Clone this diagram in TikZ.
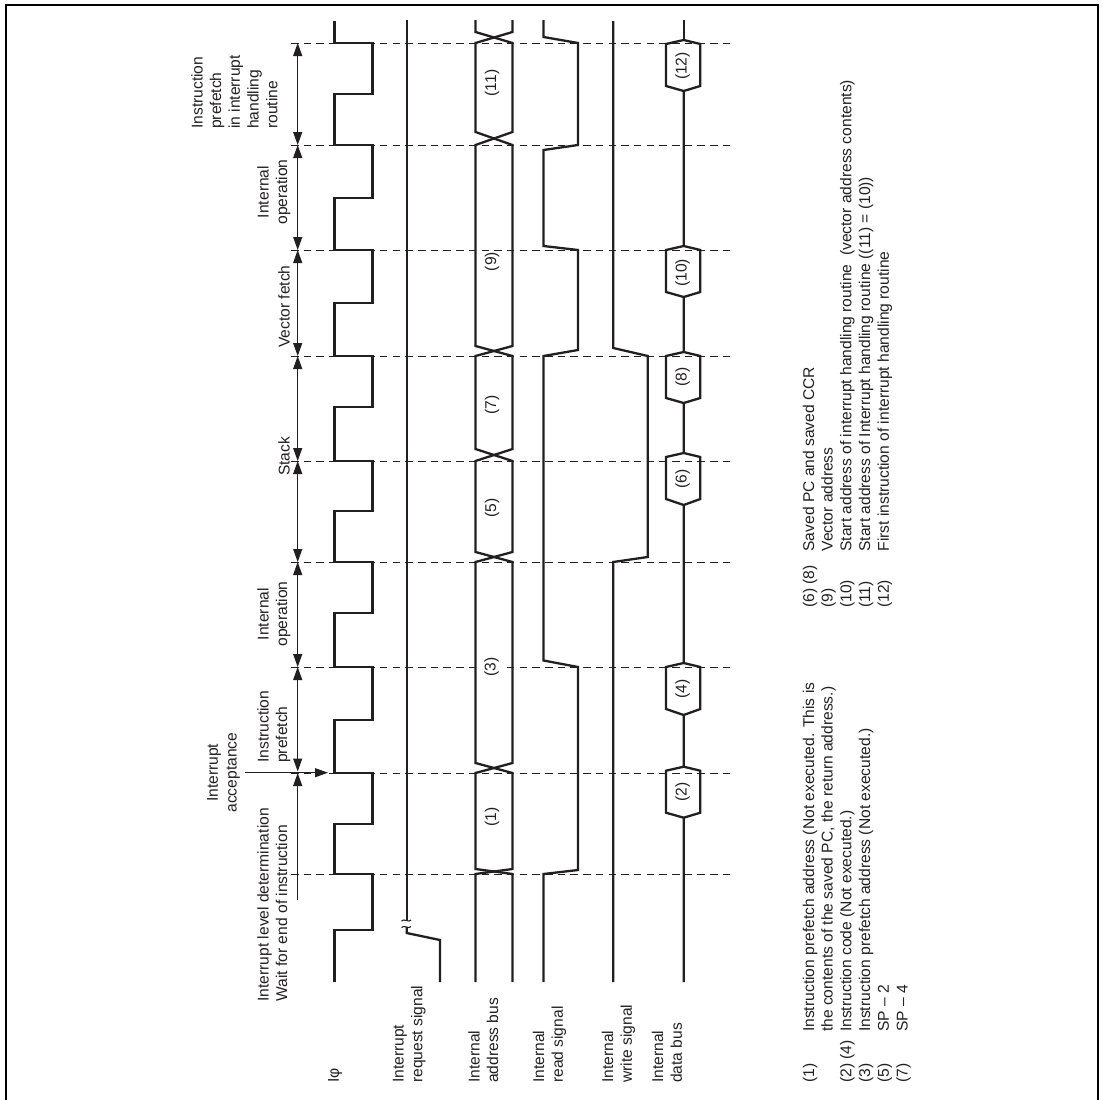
\documentclass[tikz,border=0pt]{standalone}
\usepackage{fontspec}
\setmainfont{Liberation Sans}
\usetikzlibrary{arrows.meta}
\definecolor{ink}{HTML}{231F20}
\tikzset{
  sig/.style={draw=ink,line width=2.3pt,line join=miter},
  guide/.style={draw=ink,line width=1pt,dash pattern=on 7.5pt off 5.2pt},
  dim/.style={draw=ink,line width=1.1pt,{Triangle[length=13pt,width=9pt]}-{Triangle[length=13pt,width=9pt]}},
  dimone/.style={draw=ink,line width=1.1pt,-{Triangle[length=13pt,width=9pt]}},
  lbl/.style={rotate=90,inner sep=0pt,anchor=north west,align=left,text=ink,font=\fontsize{15.6}{18.7}\selectfont},
  lblc/.style={lbl,align=center,anchor=north},
  num/.style={rotate=90,inner sep=0pt,anchor=center,text=ink,font=\fontsize{15.6}{18.7}\selectfont},
  frame/.style={draw=black,line width=2pt}
}
\begin{document}
\begin{tikzpicture}[x=1pt,y=-1pt]
\useasboundingbox (0,0) rectangle (1103,1100);
\draw[frame] (5.5,1100) -- (5.5,5) -- (1098,5) -- (1098,1100);

% guide lines
\foreach \n/\y in {a/43,b/145,c/250,d/356,e/461,f/562,g/667,h/773,i/874}{
  \coordinate (g\n L) at (291,\y);
  \coordinate (g\n R) at (732,\y);
  \coordinate (m\n) at (297.7,\y);
  \draw[guide] (g\n L) -- (g\n R);
}

% phase dimension lines
\coordinate (mstart) at (297.7,900);
\draw[dimone] (mstart) -- (mh);
\draw[dim] (mh) ++(0,-1.5) -- (mg);
\draw[dim] (mg) -- (mf);
\draw[dim] (mf) -- (me);
\draw[dim] (me) -- (md);
\draw[dim] (md) -- (mc);
\draw[dim] (mc) -- (mb);
\draw[dim] (mb) -- (ma);
\coordinate (acqS) at (245,772.7);
\coordinate (acqE) at (328,772.7);
\draw[dimone] (acqS) -- (acqE);

% clock
\draw[sig] (334.5,982) -- (334.5,930) -- (372.5,930) -- (372.5,874) -- (334.5,874)
 -- (334.5,824) -- (372.5,824) -- (372.5,773) -- (334.5,773)
 -- (334.5,720) -- (372.5,720) -- (372.5,667) -- (334.5,667)
 -- (334.5,613) -- (372.5,613) -- (372.5,562) -- (334.5,562)
 -- (334.5,511) -- (372.5,511) -- (372.5,461) -- (334.5,461)
 -- (334.5,407) -- (372.5,407) -- (372.5,356) -- (334.5,356)
 -- (334.5,303) -- (372.5,303) -- (372.5,250) -- (334.5,250)
 -- (334.5,198) -- (372.5,198) -- (372.5,145) -- (334.5,145)
 -- (334.5,94) -- (372.5,94) -- (372.5,43) -- (334.5,43) -- (334.5,21);

% interrupt request
\draw[sig] (406.7,20) -- (406.7,920);
\draw[sig] (406.7,927) -- (406.7,933) -- (440,940) -- (440,982);
\draw[draw=ink,line width=1.1pt] (401.5,921) .. controls (404,918) and (409,923) .. (411,920);
\draw[draw=ink,line width=1.1pt] (401.5,927.5) .. controls (404,924.5) and (409,929.5) .. (411,926.5);

% address bus
\draw[sig] (475.5,982) -- (475.5,874) -- (512.5,869) -- (512.5,773) -- (475.5,763) -- (475.5,562)
 -- (512.5,552) -- (512.5,461) -- (475.5,449) -- (475.5,356) -- (512.5,346) -- (512.5,145)
 -- (475.5,132) -- (475.5,43) -- (512.5,32) -- (512.5,20);
\draw[sig] (512.5,982) -- (512.5,874) -- (475.5,869) -- (475.5,773) -- (512.5,763) -- (512.5,562)
 -- (475.5,552) -- (475.5,461) -- (512.5,449) -- (512.5,356) -- (475.5,346) -- (475.5,145)
 -- (512.5,132) -- (512.5,43) -- (475.5,32) -- (475.5,20);

% read signal
\draw[sig] (543.5,982) -- (543.5,874) -- (578,870) -- (578,667) -- (543.5,660.5) -- (543.5,356)
 -- (578,350) -- (578,250) -- (543.5,246) -- (543.5,150) -- (578,145) -- (578,43) -- (543.5,37) -- (543.5,20);

% write signal
\draw[sig] (613.3,982) -- (613.3,562) -- (647.7,557) -- (647.7,356) -- (613.3,348) -- (613.3,21);

% data bus
\draw[sig] (683.7,982) -- (683.7,817.7) -- (666,812.7) -- (666,770.7) -- (683.7,766.7) -- (700.3,770.7) -- (700.3,812.7) -- (683.7,817.7);
\draw[sig] (683.7,766.7) -- (683.7,715) -- (666,709) -- (666,667) -- (683.7,663) -- (700.3,667) -- (700.3,709) -- (683.7,715);
\draw[sig] (683.7,663) -- (683.7,505) -- (666,499) -- (666,457) -- (683.7,453) -- (700.3,457) -- (700.3,499) -- (683.7,505);
\draw[sig] (683.7,453) -- (683.7,403) -- (666,398) -- (666,356) -- (683.7,352) -- (700.3,356) -- (700.3,398) -- (683.7,403);
\draw[sig] (683.7,352) -- (683.7,297) -- (666,292) -- (666,250) -- (683.7,246) -- (700.3,250) -- (700.3,292) -- (683.7,297);
\draw[sig] (683.7,246) -- (683.7,91) -- (666,86) -- (666,44) -- (683.7,40) -- (700.3,44) -- (700.3,86) -- (683.7,91);
\draw[sig] (683.7,40) -- (683.7,20);

% numbers on buses
\node[num] (n1) at (492,817) {(1)};
\node[num,fill=white,inner sep=3pt] (n3) at (491.5,667) {(3)};
\node[num] (n5) at (492,508) {(5)};
\node[num] (n7) at (492,405) {(7)};
\node[num] (n9) at (492,261.5) {(9)};
\node[num] (n11) at (492,83) {(11)};
\node[num] (n2) at (682.5,792) {(2)};
\node[num] (n4) at (682.5,689) {(4)};
\node[num] (n6) at (682.5,479) {(6)};
\node[num] (n8) at (682.5,377) {(8)};
\node[num] (n10) at (682.5,272.7) {(10)};
\node[num] (n12) at (682.5,66) {(12)};

% signal names
\node[lbl] (Lphi) at (328,1083) {Iφ};
\node[lbl] (Lreq) at (392.7,1083) {Interrupt\\request signal};
\node[lbl] (Laddr) at (468,1083) {Internal\\address bus};
\node[lbl] (Lread) at (532.7,1083) {Internal\\read signal};
\node[lbl] (Lwrite) at (601.7,1083) {Internal\\write signal};
\node[lbl] (Ldata) at (651.7,1083) {Internal\\data bus};

% phase names
\node[lbl] (Pwait) at (257,1001.7) {Interrupt level determination\\Wait for end of instruction};
\node[lblc] (Packn) at (207,772.7) {Interrupt\\acceptance};
\node[lbl] (Ppref) at (257,763) {Instruction\\prefetch};
\node[lblc] (Pop1) at (257,614) {Internal\\operation};
\node[lbl] (Pstack) at (278,476) {Stack};
\node[lbl] (Pvec) at (278,348) {Vector fetch};
\node[lblc] (Pop2) at (257,192) {Internal\\operation};
\node[lbl] (Pisr) at (191,129) {Instruction\\prefetch\\in interrupt\\handling\\routine};

% legend
\node[lbl] (K1a) at (802.5,1083) {(1)\\\mbox{}\\(2) (4)\\(3)\\(5)\\(7)};
\node[lbl] (K1b) at (802.5,1032) {Instruction prefetch address (Not executed. This is\\the contents of the saved PC, the return address.)\\Instruction code (Not executed.)\\Instruction prefetch address (Not executed.)\\SP – 2\\SP – 4};
\node[lbl] (K2a) at (802.5,608) {(6) (8)\\(9)\\(10)\\(11)\\(12)};
\node[lbl] (K2b) at (802.5,551.7) {Saved PC and saved CCR\\Vector address\\Start address of interrupt handling routine\ \ (vector address contents)\\Start address of Interrupt handling routine ((11) = (10))\\First instruction of interrupt handling routine};
\end{tikzpicture}
\end{document}
